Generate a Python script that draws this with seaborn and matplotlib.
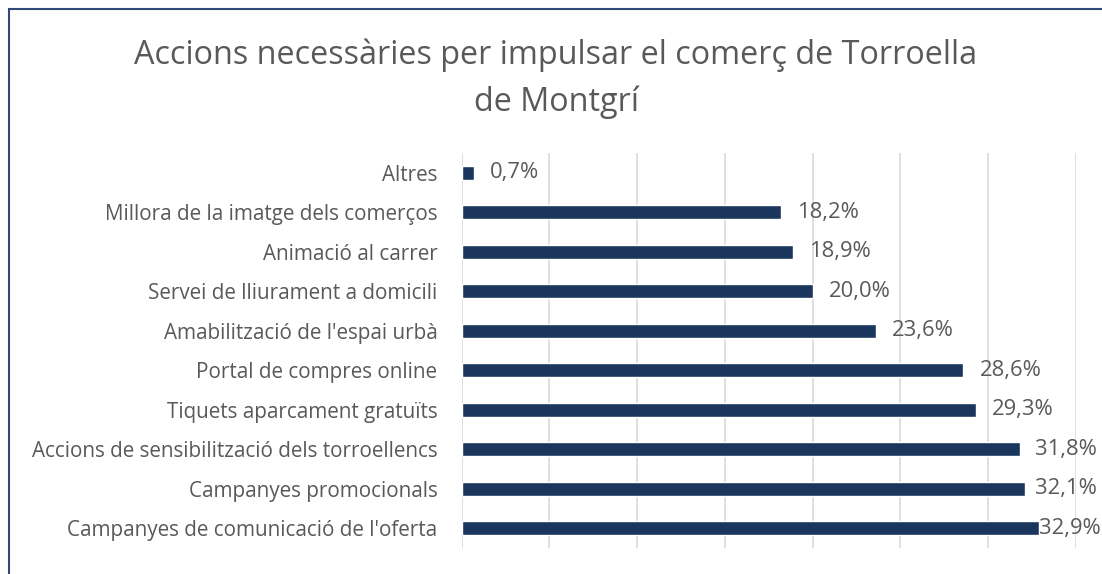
import matplotlib
matplotlib.use("Agg")
import matplotlib.pyplot as plt
import pandas as pd
import seaborn as sns
from matplotlib.patches import Rectangle

accions = [
    "Altres",
    "Millora de la imatge dels comerços",
    "Animació al carrer",
    "Servei de lliurament a domicili",
    "Amabilització de l'espai urbà",
    "Portal de compres online",
    "Tiquets aparcament gratuïts",
    "Accions de sensibilització dels torroellencs",
    "Campanyes promocionals",
    "Campanyes de comunicació de l'oferta",
]
percentatges = [0.7, 18.2, 18.9, 20.0, 23.6, 28.6, 29.3, 31.8, 32.1, 32.9]

NAVY = "#1B365D"
GREY = "#595959"

sns.set_theme(style="white")
plt.rcParams["font.family"] = ["Open Sans", "DejaVu Sans"]

df = pd.DataFrame({"accio": accions, "pct": percentatges})

fig = plt.figure(figsize=(11.02, 5.74), dpi=100)
ax = fig.add_axes([461.7 / 1102, 1 - 548 / 574, (1075.7 - 461.7) / 1102, (548 - 153) / 574])

sns.barplot(data=df, x="pct", y="accio", orient="h", color=NAVY,
            width=0.36, saturation=1, ax=ax, zorder=3)

ax.set_xlim(0, 35)
ax.set_xticks(range(0, 36, 5))
ax.tick_params(axis="x", length=0, labelbottom=False)
ax.tick_params(axis="y", length=0, pad=17.5, labelsize=14.9, labelcolor=GREY)
ax.grid(axis="x", color="#D9D9D9", linewidth=1.2, zorder=0)
ax.set_xlabel("")
ax.set_ylabel("")
for s in ax.spines.values():
    s.set_visible(False)

# value labels; like Excel, pull a label back in if it would run off the chart
renderer = fig.canvas.get_renderer()
for i, v in enumerate(percentatges):
    t = ax.annotate(f"{v:.1f}%".replace(".", ","), xy=(v, i), xytext=(16, 0),
                    textcoords="offset pixels",
                    va="center", ha="left", fontsize=15.8, color=GREY, zorder=4)
    right = t.get_window_extent(renderer).x1
    if right > 1097:
        t.set_position((max(0, 16 - (right - 1097)), 0))

fig.text(556 / 1102, 1 - 79 / 574,
         "Accions necessàries per impulsar el comerç de Torroella\nde Montgrí",
         ha="center", va="center", fontsize=23.3, color=GREY, linespacing=1.52)

# chart frame (only left and top edges fall inside the picture)
fig.patches.append(Rectangle((8.5 / 1102, -0.1), 1.2, 1 - 8.5 / 574 + 0.1,
                             transform=fig.transFigure, fill=False,
                             edgecolor="#2F4A78", linewidth=1.5))

fig.savefig("out.png", dpi=100)
